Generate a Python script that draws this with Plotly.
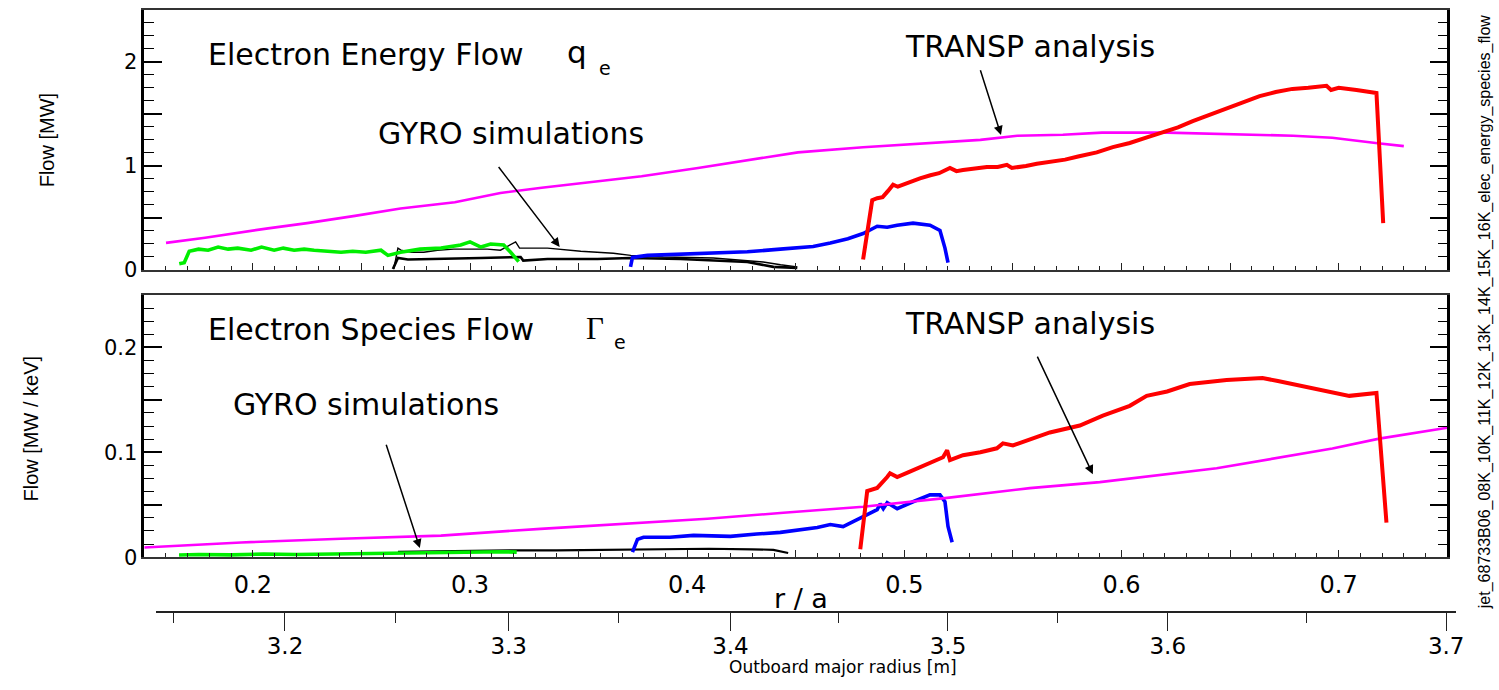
import plotly.graph_objects as go

W, H = 1499, 690

# ---------------- Electron energy flow q_e [MW] vs r/a ----------------
qe_transp_ra = [0.160, 0.178, 0.207, 0.225, 0.247, 0.268, 0.293, 0.314, 0.333, 0.379, 0.405,
                0.451, 0.481, 0.512, 0.535, 0.552, 0.573, 0.591, 0.621, 0.679, 0.697, 0.717, 0.730]
qe_transp = [0.26, 0.31, 0.40, 0.45, 0.52, 0.59, 0.65, 0.74, 0.79, 0.90, 0.98,
             1.13, 1.18, 1.22, 1.25, 1.29, 1.30, 1.32, 1.32, 1.29, 1.27, 1.22, 1.19]

qe_red_ra = [0.4810, 0.4829, 0.4852, 0.4875, 0.4900, 0.4925, 0.4948, 0.4970, 0.4994, 0.5030,
             0.5072, 0.5120, 0.5160, 0.5210, 0.5240, 0.5270, 0.5320, 0.5380, 0.5430, 0.5472,
             0.5495, 0.5518, 0.5560, 0.5610, 0.5684, 0.5740, 0.5800, 0.5886, 0.5960, 0.6038,
             0.6110, 0.6190, 0.6260, 0.6328, 0.6380, 0.6430, 0.6511, 0.6636, 0.6710, 0.6787,
             0.6860, 0.6944, 0.6965, 0.7000, 0.7082, 0.7120, 0.7164, 0.7174, 0.7205]
qe_red = [0.10, 0.35, 0.67, 0.69, 0.70, 0.76, 0.82, 0.80, 0.82, 0.85,
          0.88, 0.91, 0.93, 0.98, 0.95, 0.96, 0.97, 0.99, 0.99, 1.01,
          0.98, 0.99, 1.00, 1.02, 1.04, 1.06, 1.09, 1.13, 1.18, 1.22,
          1.27, 1.32, 1.37, 1.43, 1.47, 1.51, 1.58, 1.67, 1.71, 1.74,
          1.75, 1.77, 1.73, 1.75, 1.73, 1.72, 1.71, 1.70, 0.45]

qe_blue_ra = [0.3739, 0.3748, 0.3817, 0.3950, 0.4047, 0.4150, 0.4277, 0.4429, 0.4580, 0.4659,
              0.4740, 0.4810, 0.4875, 0.4921, 0.4967, 0.5040, 0.5118, 0.5164, 0.5187, 0.5201]
qe_blue = [0.03, 0.12, 0.14, 0.15, 0.155, 0.16, 0.175, 0.20, 0.225, 0.26,
           0.30, 0.35, 0.42, 0.41, 0.43, 0.45, 0.43, 0.38, 0.21, 0.07]

qe_green_ra = [0.1661, 0.1684, 0.1707, 0.1750, 0.1794, 0.1840, 0.1886, 0.1930, 0.1992, 0.2040,
               0.2098, 0.2140, 0.2190, 0.2236, 0.2282, 0.2340, 0.2406, 0.2460, 0.2520, 0.2590,
               0.2622, 0.2680, 0.2770, 0.2866, 0.2957, 0.3000, 0.3050, 0.3095, 0.3155, 0.3187,
               0.3224]
qe_green = [0.06, 0.07, 0.18, 0.20, 0.19, 0.22, 0.20, 0.21, 0.19, 0.22,
            0.19, 0.21, 0.19, 0.20, 0.19, 0.18, 0.17, 0.18, 0.17, 0.19,
            0.14, 0.17, 0.20, 0.21, 0.24, 0.27, 0.22, 0.25, 0.24, 0.17,
            0.08]

qe_black_hi_ra = [0.2649, 0.2668, 0.2682, 0.2730, 0.2787, 0.2850, 0.2925, 0.3017, 0.3080, 0.3140,
                  0.3210, 0.3228, 0.3247, 0.3357, 0.3510, 0.3660, 0.3740, 0.3890, 0.4120, 0.4350,
                  0.4430, 0.4507]
qe_black_hi = [0.01, 0.21, 0.19, 0.17, 0.17, 0.19, 0.20, 0.20, 0.20, 0.19,
               0.27, 0.21, 0.21, 0.21, 0.18, 0.16, 0.14, 0.125, 0.115, 0.077,
               0.05, 0.03]

qe_black_lo_ra = [0.2645, 0.2668, 0.2714, 0.2898, 0.3050, 0.3233, 0.3245, 0.3357, 0.3587, 0.3740,
                  0.3970, 0.4277, 0.4397, 0.4507]
qe_black_lo = [0.01, 0.115, 0.10, 0.106, 0.115, 0.125, 0.09, 0.106, 0.106, 0.115,
               0.106, 0.077, 0.03, 0.02]

# ---------------- Electron species flow Gamma_e [MW/keV] vs r/a ----------------
ge_transp_ra = [0.150, 0.1946, 0.2406, 0.2866, 0.3325, 0.3785, 0.4093, 0.4443, 0.4810, 0.5197,
                0.5578, 0.5900, 0.6438, 0.6971, 0.7187, 0.7500]
ge_transp = [0.0092, 0.0140, 0.0175, 0.0205, 0.0270, 0.0328, 0.0366, 0.0423, 0.0480, 0.0565,
             0.0658, 0.0715, 0.0847, 0.1036, 0.1130, 0.1234]

ge_red_ra = [0.4797, 0.4820, 0.4829, 0.4875, 0.4905, 0.4921, 0.4934, 0.4967, 0.5020, 0.5072,
             0.5120, 0.5178, 0.5197, 0.5210, 0.5270, 0.5350, 0.5426, 0.5454, 0.5500, 0.5580,
             0.5670, 0.5808, 0.5914, 0.6038, 0.6116, 0.6210, 0.6314, 0.6484, 0.6649, 0.6720,
             0.6806, 0.6957, 0.7049, 0.7174, 0.7220]
ge_red = [0.0075, 0.0425, 0.0630, 0.0660, 0.0720, 0.0764, 0.0800, 0.0764, 0.0810, 0.0858,
          0.0900, 0.0953, 0.1019, 0.0925, 0.0972, 0.1000, 0.1038, 0.1085, 0.1066, 0.1120,
          0.1189, 0.1255, 0.1349, 0.1443, 0.1538, 0.1580, 0.1651, 0.1689, 0.1708, 0.1680,
          0.1642, 0.1585, 0.1538, 0.1566, 0.0330]

ge_blue_ra = [0.3748, 0.3771, 0.3799, 0.3920, 0.4029, 0.4199, 0.4320, 0.4429, 0.4599, 0.4659,
              0.4718, 0.4810, 0.4875, 0.4889, 0.4903, 0.4921, 0.4967, 0.5040, 0.5118, 0.5164,
              0.5187, 0.5201, 0.5220]
ge_blue = [0.0047, 0.0170, 0.0189, 0.0190, 0.0208, 0.0198, 0.0220, 0.0236, 0.0283, 0.0311,
           0.0292, 0.0387, 0.0453, 0.0509, 0.0462, 0.0519, 0.0462, 0.0528, 0.0594, 0.0594,
           0.0528, 0.0292, 0.0142]

ge_green_ra = [0.166, 0.175, 0.190, 0.205, 0.220, 0.235, 0.250, 0.265, 0.280, 0.295,
               0.305, 0.315, 0.3215]
ge_green = [0.0020, 0.0025, 0.0022, 0.0030, 0.0025, 0.0030, 0.0028, 0.0035, 0.0040, 0.0045,
            0.0050, 0.0052, 0.0048]

ge_black_ra = [0.2668, 0.280, 0.300, 0.320, 0.340, 0.360, 0.374, 0.390, 0.410, 0.430, 0.4397, 0.4465]
ge_black = [0.0050, 0.0055, 0.0060, 0.0065, 0.0065, 0.0070, 0.0075, 0.0075, 0.0080, 0.0075,
            0.0070, 0.0040]

# ---------------- axis labelling ----------------
ra_ticks = [0.2, 0.3, 0.4, 0.5, 0.6, 0.7]
ra_labels = ["0.2", "0.3", "0.4", "0.5", "0.6", "0.7"]
# outboard major radius R [m] and where each R falls in r/a
radius_labels = ["3.2", "3.3", "3.4", "3.5", "3.6", "3.7"]
radius_ra = [0.2148, 0.3178, 0.4199, 0.5201, 0.6213, 0.7495]
radius_half_ra = [0.1633, 0.2659, 0.3684, 0.4695, 0.5707, 0.6852]  # 3.15, 3.25, ... 3.65

qe_ticks = [0, 0.5, 1, 1.5, 2]
qe_tick_labels = ["0", "", "1", "", "2"]
ge_ticks = [0, 0.05, 0.1, 0.15, 0.2]
ge_tick_labels = ["0", "", "0.1", "", "0.2"]

SANS = "DejaVu Sans"
ARIAL = "Liberation Sans"

# screen-pixel -> paper-fraction helpers (page is drawn at a slightly reduced scale)
SX, OX = 0.9962, -1.5
SY, OY = 0.982, 0.2


def px(x):
    return ((x - OX) / SX) / W


def py(y):
    return 1 - ((y - OY) / SY) / H


fig = go.Figure()

series = [
    (qe_black_lo_ra, qe_black_lo, "black", 2.6, "x", "y"),
    (qe_black_hi_ra, qe_black_hi, "black", 1.4, "x", "y"),
    (qe_green_ra, qe_green, "#00ee00", 3.6, "x", "y"),
    (qe_blue_ra, qe_blue, "#0000ff", 3.6, "x", "y"),
    (qe_transp_ra, qe_transp, "#ff00ff", 2.6, "x", "y"),
    (qe_red_ra, qe_red, "#ff0000", 4.0, "x", "y"),
    (ge_black_ra, ge_black, "black", 2.2, "x2", "y2"),
    (ge_green_ra, ge_green, "#00ee00", 3.6, "x2", "y2"),
    (ge_blue_ra, ge_blue, "#0000ff", 3.6, "x2", "y2"),
    (ge_transp_ra, ge_transp, "#ff00ff", 2.6, "x2", "y2"),
    (ge_red_ra, ge_red, "#ff0000", 4.0, "x2", "y2"),
]
for xs, ys, col, lw, xa, ya in series:
    fig.add_trace(go.Scatter(x=xs, y=ys, mode="lines", line=dict(color=col, width=lw),
                             xaxis=xa, yaxis=ya, showlegend=False, hoverinfo="skip"))

# empty traces so the two scale axes under the panels get drawn
for xa in ("x3", "x4"):
    fig.add_trace(go.Scatter(x=[None], y=[None], mode="lines", xaxis=xa, yaxis="y3",
                             showlegend=False, hoverinfo="skip"))

x_dom = [px(143), px(1448)]
panel_x = dict(domain=x_dom, range=[0.15, 0.75], showticklabels=False, showgrid=False,
               zeroline=False, ticks="inside", tick0=0.15, dtick=0.05, ticklen=7, tickwidth=1.4,
               tickcolor="#222", minor=dict(ticks="inside", dtick=0.01, ticklen=4, tickwidth=1.2,
                                            tickcolor="#222"),
               showline=True, linecolor="#333", linewidth=1.5, mirror=True)

panel_y = dict(showgrid=False, zeroline=False, ticks="inside", ticklen=18, tickwidth=1.5,
               tickcolor="black", showline=True, linecolor="black", linewidth=2.5,
               mirror="allticks", tickfont=dict(family=SANS, size=21, color="black"),
               ticklabelstandoff=0)

fig.update_layout(
    width=W, height=H,
    margin=dict(l=0, r=0, t=0, b=0, pad=0),
    paper_bgcolor="white", plot_bgcolor="rgba(0,0,0,0)",
    xaxis=dict(panel_x, anchor="y"),
    xaxis2=dict(panel_x, anchor="y2"),
    yaxis=dict(panel_y, domain=[py(270), py(10)], range=[0, 2.5], anchor="x",
               tickmode="array", tickvals=qe_ticks, ticktext=qe_tick_labels,
               minor=dict(ticks="inside", dtick=0.125, ticklen=10, tickwidth=1.4, tickcolor="black")),
    yaxis2=dict(panel_y, domain=[py(557), py(295)], range=[0, 0.25], anchor="x2",
                tickmode="array", tickvals=ge_ticks, ticktext=ge_tick_labels,
                minor=dict(ticks="inside", dtick=0.0125, ticklen=10, tickwidth=1.4, tickcolor="black")),
    yaxis3=dict(visible=False, domain=[0, 0.05], range=[0, 1], anchor="free", position=0),
    # outboard major radius scale under the panels
    xaxis3=dict(domain=[px(155), px(1457)],
                range=[0.15 + 12 / 2175, 0.15 + 1314 / 2175],
                anchor="free", position=py(612), side="bottom",
                showline=True, linecolor="#222", linewidth=2, showgrid=False, zeroline=False,
                tickmode="array", tickvals=radius_ra, ticktext=radius_labels,
                ticks="outside", ticklen=18, tickwidth=1.4, tickcolor="#222",
                minor=dict(tickmode="array", tickvals=radius_half_ra, ticks="outside",
                           ticklen=10, tickwidth=1.4, tickcolor="#222"),
                tickfont=dict(family=SANS, size=23, color="black"), ticklabelstandoff=-5),
    # r/a scale labels above that line
    xaxis4=dict(domain=x_dom, range=[0.15, 0.75], anchor="free", position=py(598),
                side="top", showline=False, showgrid=False, zeroline=False, ticks="",
                tickmode="array", tickvals=ra_ticks, ticktext=ra_labels,
                tickfont=dict(family=SANS, size=24, color="black")),
)

ann = []


def text(x, y, s, size, family=SANS, xanchor="center", yanchor="middle", angle=0, yp=None):
    ann.append(dict(x=px(x), y=py(y) if yp is None else yp, xref="paper", yref="paper",
                    text=s, showarrow=False, xanchor=xanchor, yanchor=yanchor, textangle=angle,
                    borderpad=0, font=dict(family=family, size=size, color="black")))


def arrow(xa, ya, x, y, dx, dy):
    ann.append(dict(x=x, y=y, xref=xa, yref=ya, text="", showarrow=True,
                    ax=dx / SX, ay=dy / SY,
                    arrowhead=2, arrowsize=1.2, arrowwidth=1.5, arrowcolor="black"))


# upper panel
text(365, 55, "Electron Energy Flow", 30)
text(576, 52, "q", 31)
text(604, 68, "e", 19)
text(510, 134, "GYRO simulations", 30)
text(1030, 47, "TRANSP analysis", 30)
arrow("x", "y", 0.3413, 0.221, -62, -80)
arrow("x", "y", 0.5445, 1.298, -21, -65)

# lower panel
text(370, 329, "Electron Species Flow", 30)
text(594, 328, "\u0393", 31, family="Liberation Serif")
text(619, 342, "e", 19)
text(365, 404, "GYRO simulations", 30)
text(1030, 323, "TRANSP analysis", 30)
arrow("x2", "y2", 0.2769, 0.0086, -34, -103)
arrow("x2", "y2", 0.5868, 0.079, -56, -117)

# axis titles
text(45, 140, "Flow [MW]", 20, family=ARIAL, angle=-90)
text(30, 428, "Flow [MW / keV]", 20, family=ARIAL, angle=-90)
text(801, 598, "r / a", 27)
text(843, 0, "Outboard major radius [m]", 17, yanchor="bottom", yp=0)
text(1486, 312, "jet_68733B06_08K_10K_11K_12K_13K_14K_15K_16K_elec_energy_species_flow", 16,
     family=ARIAL, angle=-90)

fig.update_layout(annotations=ann)

fig.write_html("out.html")
